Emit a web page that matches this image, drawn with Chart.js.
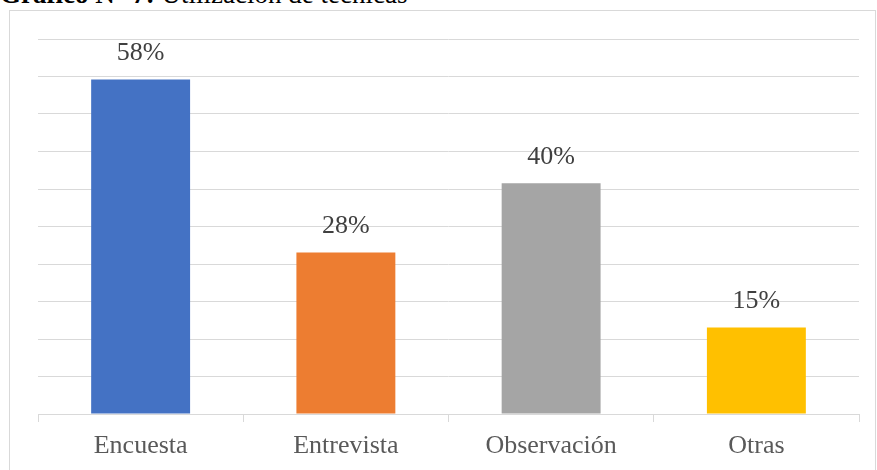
<!DOCTYPE html>
<html>
<head>
<meta charset="utf-8">
<script src="https://cdn.jsdelivr.net/npm/chart.js@4/dist/chart.umd.min.js"></script>
<style>
  html, body { margin: 0; padding: 0; background: #fff; overflow: hidden; }
  #wrap { position: relative; width: 877px; height: 470px; }
  #title { position: absolute; left: 0; top: -18.6px; font-family: "Liberation Serif", "Times New Roman", serif; font-size: 27px; line-height: 27px; color: #000; white-space: nowrap; }
  #frame { position: absolute; left: 9px; top: 10px; width: 867px; height: 470px; border: 1px solid #d9d9d9; box-sizing: border-box; }
  #c { position: absolute; left: 0; top: 0; }
</style>
</head>
<body>
<div id="wrap">
  <div id="title"><b>Gráfico N° 7:</b> Utilización de técnicas</div>
  <div id="frame"></div>
  <canvas id="c" width="877" height="470"></canvas>
</div>
<script>
const categories = ["Encuesta", "Entrevista", "Observación", "Otras"];
const values = [58, 28, 40, 15];
const valueLabels = ["58%", "28%", "40%", "15%"];
const barColors = ["#4472C4", "#ED7D31", "#A5A5A5", "#FFC000"];

const dataLabelPlugin = {
  id: 'dataLabels',
  afterDatasetsDraw(chart) {
    const ctx = chart.ctx;
    const meta = chart.getDatasetMeta(0);
    ctx.save();
    ctx.font = '26px "Liberation Serif", "Times New Roman", serif';
    ctx.fillStyle = '#404040';
    ctx.textAlign = 'center';
    ctx.textBaseline = 'alphabetic';
    meta.data.forEach((bar, i) => {
      ctx.fillText(valueLabels[i], bar.x, bar.y - 19);
    });
    ctx.restore();
  }
};

new Chart(document.getElementById('c'), {
  type: 'bar',
  data: {
    labels: categories,
    datasets: [{
      data: values,
      backgroundColor: barColors,
      borderWidth: 0,
      categoryPercentage: 1,
      barPercentage: 0.482
    }]
  },
  options: {
    responsive: false,
    animation: false,
    devicePixelRatio: 1,
    layout: { padding: { left: 38, top: 39, right: 18, bottom: 0 } },
    plugins: { legend: { display: false }, tooltip: { enabled: false } },
    scales: {
      x: {
        afterFit(scale) { scale.height = 56; },
        border: { display: true, color: '#d9d9d9', width: 1 },
        grid: { display: true, offset: true, drawOnChartArea: false, drawTicks: true, tickLength: 8, color: '#d9d9d9', lineWidth: 1 },
        ticks: {
          padding: 8.6,
          color: '#595959',
          font: { family: '"Liberation Serif", "Times New Roman", serif', size: 26 }
        }
      },
      y: {
        min: 0,
        max: 65,
        afterFit(scale) { scale.width = 0; },
        border: { display: false },
        grid: { color: '#d9d9d9', lineWidth: 1, drawTicks: false },
        ticks: { display: false, count: 11 }
      }
    }
  },
  plugins: [dataLabelPlugin]
});
</script>
</body>
</html>
